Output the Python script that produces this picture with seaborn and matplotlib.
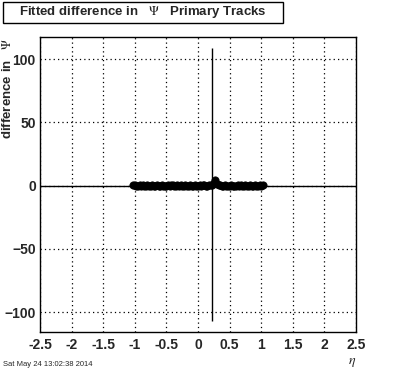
import numpy as np
import pandas as pd
import matplotlib
matplotlib.use("Agg")
import matplotlib.pyplot as plt
from matplotlib.patches import Rectangle
from matplotlib.ticker import MultipleLocator
import seaborn as sns

# ---- data ----
eta = [-1.025, -1.0, -0.975, -0.95, -0.925, -0.9, -0.875, -0.85, -0.825, -0.8,
       -0.775, -0.75, -0.725, -0.7, -0.675, -0.65, -0.625, -0.6, -0.575, -0.55,
       -0.525, -0.5, -0.475, -0.45, -0.425, -0.4, -0.375, -0.35, -0.325, -0.3,
       -0.275, -0.25, -0.225, -0.2, -0.175, -0.15, -0.125, -0.1, -0.075, -0.05,
       -0.025, 0.0, 0.025, 0.05, 0.075, 0.1, 0.125, 0.15, 0.175, 0.2,
       0.225, 0.25, 0.275, 0.3, 0.325, 0.35, 0.375, 0.4, 0.425, 0.45,
       0.475, 0.5, 0.525, 0.55, 0.575, 0.6, 0.625, 0.65, 0.675, 0.7,
       0.725, 0.75, 0.775, 0.8, 0.825, 0.85, 0.875, 0.9, 0.925, 0.95,
       0.975, 1.0, 1.025]
diff = [0.2, 0.1, 0.0, -0.1, 0.1, 0.0, 0.1, -0.1, 0.0, 0.1,
        0.0, -0.1, 0.1, 0.0, 0.0, 0.1, -0.1, 0.0, 0.1, 0.0,
        -0.1, 0.0, 0.1, 0.0, 0.2, 0.1, 0.0, -0.1, 0.1, 0.0,
        0.1, -0.1, 0.0, 0.1, 0.0, -0.1, 0.1, 0.0, 0.0, 0.1,
        -0.1, 0.0, 0.1, 0.0, 0.2, 0.1, 0.0, -0.1, 0.2, 0.3,
        0.8, 2.0, 4.0, 1.5, 0.3, 0.1, 0.0, -0.1, 0.1, 0.0,
        -0.1, 0.0, 0.1, 0.0, -0.1, 0.0, 0.1, 0.0, 0.1, -0.1,
        0.0, 0.1, 0.0, -0.1, 0.1, 0.0, 0.0, 0.1, -0.1, 0.0,
        0.1, 0.0, 0.1]
err = [0.0] * len(eta)
err[50] = 108.0

title = "Fitted difference in   $\\Psi$   Primary Tracks"
ylabel = "difference in   $\\Psi$"
xlabel = "$\\eta$"
stamp = "Sat May 24 13:02:38 2014"
xticks = [-2.5, -2, -1.5, -1, -0.5, 0, 0.5, 1, 1.5, 2, 2.5]
xtick_labels = ["-2.5", "-2", "-1.5", "-1", "-0.5", "0", "0.5", "1", "1.5", "2", "2.5"]
yticks = [-100, -50, 0, 50, 100]

df = pd.DataFrame({"eta": eta, "diff": diff, "err": err})

sns.set_theme(style="white")
plt.rcParams["font.family"] = ["Liberation Sans", "DejaVu Sans"]
plt.rcParams["mathtext.fontset"] = "stix"

W, H = 396, 372
fig = plt.figure(figsize=(W / 100, H / 100), dpi=100)
fig.patch.set_facecolor("white")
ax = fig.add_axes([40 / W, 1 - 332 / H, 316 / W, 295 / H])
ax.set_facecolor("white")

ax.set_xlim(-2.5, 2.5)
ax.set_ylim(-115.8, 117.4)

# grid
ax.set_xticks(xticks)
ax.set_xticklabels(xtick_labels)
ax.set_yticks(yticks)
ax.xaxis.set_minor_locator(MultipleLocator(0.1))
ax.yaxis.set_minor_locator(MultipleLocator(10))
ax.grid(True, which="major", color="black", linestyle=(0, (1, 2.5)), linewidth=0.9)

# zero line
ax.axhline(0, color="black", linewidth=1.0, zorder=2)

# error bars
ax.errorbar(df["eta"], df["diff"], yerr=df["err"], fmt="none", ecolor="black",
            elinewidth=1.0, capsize=0, zorder=3)
# points
sns.scatterplot(data=df, x="eta", y="diff", ax=ax, color="black", s=28,
                edgecolor="black", linewidth=0.5, zorder=4, legend=False)

ax.set_xlabel("")
ax.set_ylabel("")

for s in ax.spines.values():
    s.set_color("black")
    s.set_linewidth(1.0)

ax.tick_params(axis="both", which="both", direction="in", top=False, right=False,
               color="black")
ax.tick_params(axis="both", which="major", length=8, width=1.0, labelsize=10)
ax.tick_params(axis="both", which="minor", length=4, width=1.0)
ax.tick_params(axis="x", pad=4)
ax.tick_params(axis="y", pad=3)
for lab in ax.get_xticklabels() + ax.get_yticklabels():
    lab.set_fontweight("bold")

# y label
fig.text(8 / W, 1 - 38 / H, ylabel, rotation=90, ha="center", va="top",
         fontsize=9.5, fontweight="bold")
# x label
fig.text(352 / W, 1 - 362 / H, xlabel, ha="center", va="center", fontsize=10)
# date stamp
fig.text(3 / W, 1 - 365 / H, stamp, ha="left", va="center", fontsize=5.5)

# title box
fig.patches.append(Rectangle((3 / W, 1 - 23 / H), 280 / W, 21 / H, transform=fig.transFigure,
                             facecolor="white", edgecolor="black", linewidth=1.0))
fig.text(143 / W, 1 - 12.5 / H, title, ha="center", va="center", fontsize=9.5,
         fontweight="bold")

fig.savefig("out.png", dpi=100)
